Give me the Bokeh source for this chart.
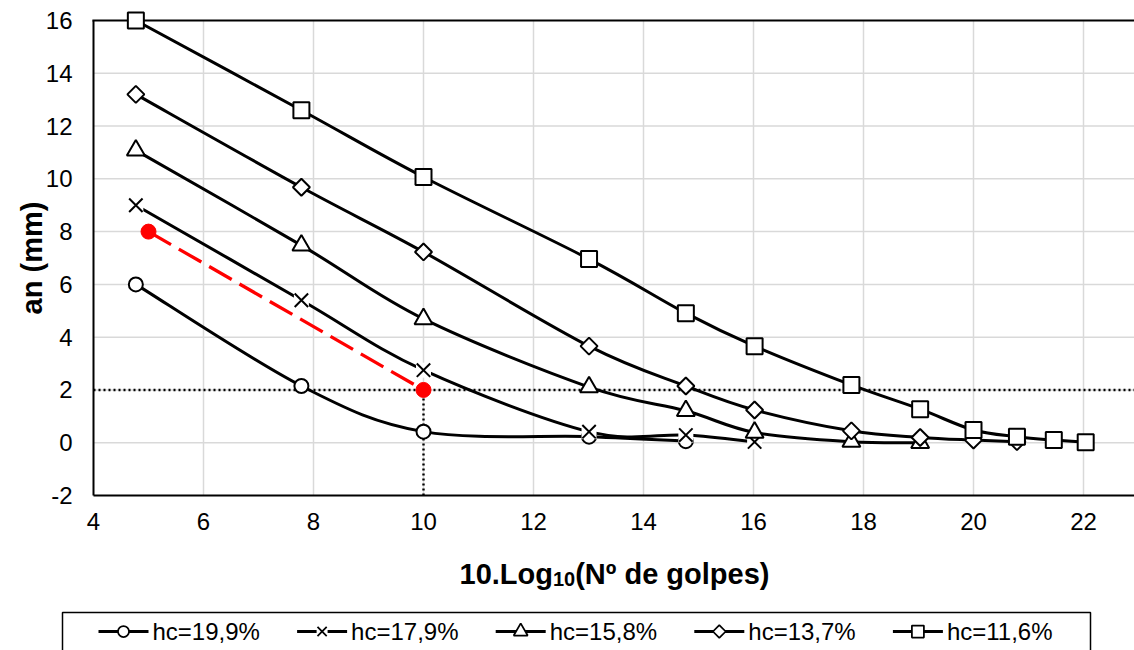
import numpy as np
from bokeh.plotting import figure
from bokeh.models import FixedTicker, Range1d
from bokeh.core.properties import value
from bokeh.embed import file_html
from bokeh.resources import INLINE

# ---------------- data ----------------
log_blows = [4.77, 7.78, 10.0, 13.01, 14.77, 16.02, 17.78, 19.03, 20.0, 20.79, 21.46, 22.04]
an_hc199 = [6.0, 2.15, 0.42, 0.23, 0.06]
an_hc179 = [9.0, 5.4, 2.75, 0.42, 0.29, 0.03]
an_hc158 = [11.08, 7.48, 4.69, 2.11, 1.21, 0.39, 0.04, 0.0]
an_hc137 = [13.2, 9.68, 7.23, 3.66, 2.15, 1.24, 0.45, 0.2, 0.1, 0.04]
an_hc116 = [16.0, 12.6, 10.07, 6.96, 4.91, 3.66, 2.19, 1.27, 0.48, 0.23, 0.1, 0.02]
series_labels = ["hc=19,9%", "hc=17,9%", "hc=15,8%", "hc=13,7%", "hc=11,6%"]
red_x = [5.0, 10.0]
red_y = [8.0, 2.0]
limit_an = 2.0
limit_x = 10.0
x_ticks = [4, 6, 8, 10, 12, 14, 16, 18, 20, 22]
y_ticks = [-2, 0, 2, 4, 6, 8, 10, 12, 14, 16]
x_title_parts = ["10.Log", "10", "(N\u00ba de golpes)"]
y_title = "an (mm)"

# ---------------- layout (pixels of the 1134x650 canvas) ----------------
W, H = 1134, 650
PLOT_L, PLOT_T, PLOT_B = 93, 20, 495
AX_X0, AX_Y0, AX_Y1 = 4.0, -2.0, 16.0
PX_X = 55.0
PX_Y = (PLOT_B - PLOT_T) / (AX_Y1 - AX_Y0)
XL = AX_X0 - PLOT_L / PX_X
XR = AX_X0 + (W - PLOT_L) / PX_X
YT = AX_Y1 + PLOT_T / PX_Y
YB = AX_Y1 - (H - PLOT_T) / PX_Y
FONT = "Liberation Sans"


def xd(px):
    return XL + px / PX_X


def yd(py):
    return YT - py / PX_Y


p = figure(width=W, height=H, output_backend="svg", toolbar_location=None,
           x_range=Range1d(XL, XR), y_range=Range1d(YB, YT),
           min_border_left=0, min_border_right=0, min_border_top=0, min_border_bottom=0)
p.outline_line_color = None
p.background_fill_color = "white"
p.border_fill_color = "white"
p.grid.visible = False

for ax in (p.xaxis[0], p.yaxis[0]):
    ax.axis_line_color = "black"
    ax.axis_line_width = 2
    ax.major_tick_line_color = None
    ax.minor_tick_line_color = None
    ax.major_tick_in = 0
    ax.major_tick_out = 0
    ax.minor_tick_in = 0
    ax.minor_tick_out = 0
    ax.major_label_text_font = FONT
    ax.major_label_text_font_size = "24px"
    ax.major_label_text_color = "black"

p.xaxis[0].ticker = FixedTicker(ticks=x_ticks)
p.yaxis[0].ticker = FixedTicker(ticks=y_ticks)
p.xaxis[0].major_label_overrides = {t: str(t) for t in x_ticks}
p.yaxis[0].major_label_overrides = {t: str(t) for t in y_ticks}
p.xaxis[0].major_label_standoff = 17
p.yaxis[0].major_label_standoff = 21
p.xaxis[0].fixed_location = AX_Y0
p.yaxis[0].fixed_location = AX_X0
p.xaxis[0].bounds = (AX_X0, XR + 1)
p.yaxis[0].bounds = (AX_Y0, AX_Y1)

# gridlines (drawn from the tick lists) and top border
p.segment(x0=x_ticks[1:], y0=[AX_Y0] * (len(x_ticks) - 1), x1=x_ticks[1:],
          y1=[AX_Y1] * (len(x_ticks) - 1), line_color="#d9d9d9", line_width=1.5)
p.segment(x0=[AX_X0] * (len(y_ticks) - 2), y0=y_ticks[1:-1], x1=[XR + 1] * (len(y_ticks) - 2),
          y1=y_ticks[1:-1], line_color="#d9d9d9", line_width=1.5)
p.segment(x0=[AX_X0 - 0.02], y0=[AX_Y1], x1=[XR + 1], y1=[AX_Y1],
          line_color="black", line_width=2)

# dotted guide lines
p.segment(x0=[AX_X0], y0=[limit_an], x1=[XR + 1], y1=[limit_an],
          line_color="black", line_width=2.4, line_dash="2 3")
p.segment(x0=[limit_x], y0=[AX_Y0], x1=[limit_x], y1=[limit_an],
          line_color="black", line_width=2.4, line_dash="2 3")


def catmull(xs, ys):
    n = len(xs)
    out = {k: [] for k in ("x0", "y0", "x1", "y1", "cx0", "cy0", "cx1", "cy1")}
    for i in range(n - 1):
        a = i - 1 if i > 0 else i
        d = i + 2 if i + 2 < n else i + 1
        out["x0"].append(xs[i]); out["y0"].append(ys[i])
        out["x1"].append(xs[i + 1]); out["y1"].append(ys[i + 1])
        out["cx0"].append(xs[i] + (xs[i + 1] - xs[a]) / 6.0)
        out["cy0"].append(ys[i] + (ys[i + 1] - ys[a]) / 6.0)
        out["cx1"].append(xs[i + 1] - (xs[d] - xs[i]) / 6.0)
        out["cy1"].append(ys[i + 1] - (ys[d] - ys[i]) / 6.0)
    return out


all_series = [an_hc199, an_hc179, an_hc158, an_hc137, an_hc116]
marker_specs = [
    dict(marker="circle", size=14, angle=0.0, lsize=11),
    dict(marker="x", size=19, angle=0.0, lsize=13),
    dict(marker="triangle", size=18, angle=0.0, lsize=14),
    dict(marker="square", size=12, angle=np.pi / 4, lsize=9),
    dict(marker="square", size=16, angle=0.0, lsize=12),
]

for ys, spec in zip(all_series, marker_specs):
    xs = log_blows[:len(ys)]
    p.bezier(**catmull(xs, ys), line_color="black", line_width=3)
    if spec["marker"] == "x":
        p.scatter(xs, ys, marker="square", size=15, fill_color="white", line_color=None)
        p.scatter(xs, ys, marker="x", size=spec["size"], line_color="black", line_width=2)
    else:
        p.scatter(xs, ys, marker=spec["marker"], size=spec["size"], angle=spec["angle"],
                  fill_color="white", line_color="black", line_width=2)

# red highlighted path
p.line(red_x, red_y, line_color="#ff0000", line_width=3.3, line_dash="26 9")
p.scatter(red_x, red_y, marker="circle", size=15, fill_color="#ff0000", line_color="#ff0000")

# ---------------- axis titles ----------------
p.text(x=[xd(31)], y=[yd((PLOT_T + PLOT_B) / 2)], text=[y_title], angle=np.pi / 2,
       text_align="center", text_baseline="alphabetic", text_font=value(FONT),
       text_font_size="29px", text_font_style="bold", text_color="black")
t_start = 459.0
w_main = 3.223 * 29
w_sub = 2 * 0.556 * 20
p.text(x=[xd(t_start), xd(t_start + w_main + w_sub)], y=[yd(573), yd(573)],
       text=[x_title_parts[0], x_title_parts[2]], text_align="left",
       text_baseline="alphabetic", text_font=value(FONT), text_font_size="29px",
       text_font_style="bold", text_color="black")
p.text(x=[xd(t_start + w_main)], y=[yd(578)], text=[x_title_parts[1]], text_align="left",
       text_baseline="alphabetic", text_font=value(FONT), text_font_size="20px",
       text_font_style="bold", text_color="black")

# ---------------- legend box ----------------
BOX_L, BOX_R, BOX_T = 62, 1090, 612
p.line(x=[xd(BOX_L), xd(BOX_L), xd(BOX_R), xd(BOX_R)],
       y=[yd(H + 10), yd(BOX_T), yd(BOX_T), yd(H + 10)],
       line_color="black", line_width=1.5)

item_px = [98 + 198.6 * i for i in range(len(series_labels))]
glyph_w = 50
cy = yd(631)
n = len(series_labels)
p.segment(x0=[xd(s) for s in item_px], y0=[cy] * n, x1=[xd(s + glyph_w) for s in item_px],
          y1=[cy] * n, line_color="black", line_width=3)
for k, spec in enumerate(marker_specs):
    mx = [xd(item_px[k] + glyph_w / 2)]
    if spec["marker"] == "x":
        p.scatter(mx, [cy], marker="square", size=11, fill_color="white", line_color=None)
        p.scatter(mx, [cy], marker="x", size=spec["lsize"], line_color="black",
                  line_width=1.75)
    else:
        p.scatter(mx, [cy], marker=spec["marker"], size=spec["lsize"], angle=spec["angle"],
                  fill_color="white", line_color="black", line_width=1.75)
p.text(x=[xd(s + glyph_w + 4) for s in item_px], y=[cy] * n, text=series_labels,
       text_baseline="middle", text_align="left", text_font=value(FONT),
       text_font_size="24px", text_color="black")

open("out.html", "w").write(file_html(p, INLINE))
